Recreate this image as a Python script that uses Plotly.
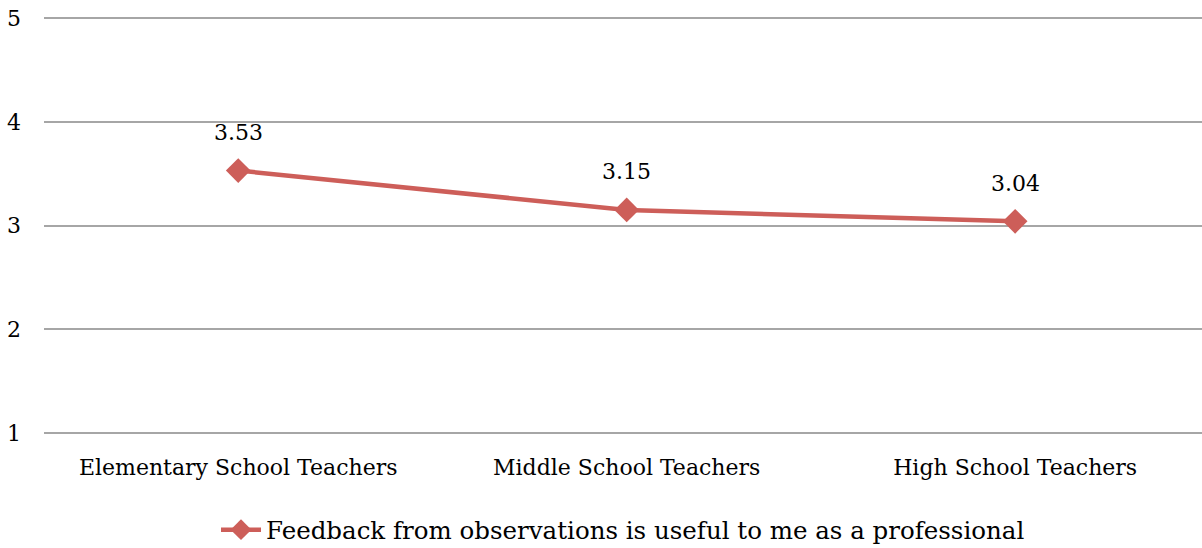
import plotly.graph_objects as go

categories = ["Elementary School Teachers", "Middle School Teachers", "High School Teachers"]
values = [3.53, 3.15, 3.04]
labels = ["3.53", "3.15", "3.04"]
series_name = "Feedback from observations is useful to me as a professional"
y_ticks = [1, 2, 3, 4, 5]

FONT = "DejaVu Serif"
RED = "rgb(205,94,89)"

fig = go.Figure()
fig.add_trace(go.Scatter(
    x=categories, y=values, mode="lines+markers",
    name=series_name,
    line=dict(color=RED, width=4.5),
    marker=dict(symbol="diamond", size=19, color=RED),
    cliponaxis=False,
))

for c, v, t in zip(categories, values, labels):
    fig.add_annotation(x=c, y=v, text=t, showarrow=False, yshift=38,
                       font=dict(family=FONT, size=22, color="#000"))

fig.update_layout(
    width=1202, height=548,
    margin=dict(l=44, r=0, t=13, b=110, autoexpand=False),
    paper_bgcolor="white", plot_bgcolor="white",
    font=dict(family=FONT, size=20, color="#000"),
    showlegend=True,
    legend=dict(orientation="h", x=0.5, xanchor="center", y=-0.216, yanchor="middle",
                font=dict(family=FONT, size=24.5, color="#000"), itemwidth=40),
    xaxis=dict(type="category", range=[-0.5, 2.481], showgrid=False, showline=False,
               zeroline=False, ticks="", ticklabelstandoff=14,
               tickfont=dict(family=FONT, size=22, color="#000")),
    yaxis=dict(range=[0.95, 5.05], tickvals=y_ticks, showgrid=True,
               gridcolor="#A6A6A6", gridwidth=1.5, zeroline=False, showline=False,
               ticks="", ticklabelstandoff=22,
               tickfont=dict(family=FONT, size=22, color="#000")),
)

fig.write_html("out.html", config={"displayModeBar": False},
               post_script="document.body.style.margin='0';")
